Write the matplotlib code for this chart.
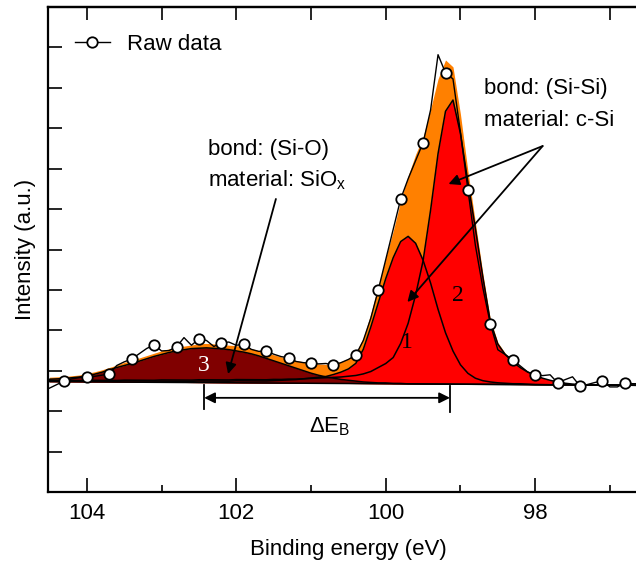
import numpy as np
import matplotlib
matplotlib.use("Agg")
import matplotlib.pyplot as plt

plt.rcParams['font.family'] = ['Liberation Sans', 'DejaVu Sans']
plt.rcParams['mathtext.fontset'] = 'custom'
plt.rcParams['mathtext.rm'] = 'Liberation Sans'
plt.rcParams['mathtext.it'] = 'Liberation Sans:italic'

# ---------------------------- data ----------------------------
# raw XPS spectrum, 0.1 eV steps starting at 104.5 eV (markers every 0.3 eV)
e_start, e_step = 104.5, 0.1
raw_int = [2.57, 2.66, 2.75, 2.80, 2.83, 2.85, 2.86, 2.89, 2.92, 3.13,
           3.22, 3.29, 3.42, 3.55, 3.64, 3.49, 3.50, 3.59, 3.82, 3.63,
           3.79, 3.75, 3.60, 3.69, 3.71, 3.63, 3.66, 3.53, 3.48, 3.49,
           3.41, 3.35, 3.32, 3.23, 3.20, 3.19, 3.17, 3.18, 3.14, 3.20,
           3.28, 3.39, 3.75, 4.30, 5.00, 5.75, 6.50, 7.25, 7.75, 8.20,
           8.64, 9.45, 10.82, 10.37, 10.22, 8.90, 7.48, 6.10, 5.05, 4.16,
           3.52, 3.40, 3.27, 3.12, 2.97, 2.90, 2.88, 2.90, 2.70, 2.78,
           2.85, 2.62, 2.66, 2.71, 2.75, 2.60, 2.60, 2.70, 2.68, 2.68]

# background line (end points)
base_e = [96.6, 104.5]
base_i = [2.64, 2.73]

# fitted components (height above background) on the same 0.1 eV grid,
# each list starts at 104.5 eV
p1 = [0.02, 0.02, 0.02, 0.02, 0.02, 0.02, 0.02, 0.02, 0.02, 0.02,   # 104.5
      0.03, 0.03, 0.03, 0.03, 0.03, 0.03, 0.03, 0.03, 0.03, 0.03,   # 103.5
      0.04, 0.04, 0.04, 0.04, 0.04, 0.05, 0.05, 0.05, 0.05, 0.05,   # 102.5
      0.06, 0.07, 0.08, 0.09, 0.11, 0.13, 0.15, 0.17, 0.22, 0.28,   # 101.5
      0.36, 0.50, 0.85, 1.40, 2.00, 2.60, 3.12, 3.52, 3.65, 3.48,   # 100.5
      3.06, 2.50, 1.85, 1.27, 0.82, 0.48, 0.27, 0.15, 0.09, 0.06,   # 99.5
      0.04, 0.03, 0.02, 0.02, 0.01]                                 # 98.5
p2 = [0.03, 0.03, 0.03, 0.03, 0.03, 0.04, 0.04, 0.04, 0.04, 0.04,   # 104.5
      0.05, 0.05, 0.05, 0.05, 0.05, 0.06, 0.06, 0.06, 0.06, 0.06,   # 103.5
      0.07, 0.07, 0.07, 0.07, 0.07, 0.08, 0.08, 0.08, 0.08, 0.08,   # 102.5
      0.09, 0.09, 0.10, 0.10, 0.11, 0.12, 0.13, 0.14, 0.15, 0.16,   # 101.5
      0.18, 0.20, 0.24, 0.30, 0.40, 0.50, 0.65, 1.00, 1.50, 2.20,   # 100.5
      3.05, 4.30, 5.70, 6.75, 7.03, 6.20, 5.00, 3.85, 2.65, 1.55,   # 99.5
      1.00, 0.74, 0.56, 0.42, 0.31, 0.23, 0.16, 0.11, 0.07, 0.04,   # 98.5
      0.02, 0.01]                                                   # 97.5
p3 = [0.06, 0.07, 0.08, 0.10, 0.12, 0.15, 0.19, 0.24, 0.30, 0.36,   # 104.5
      0.41, 0.46, 0.52, 0.58, 0.64, 0.69, 0.74, 0.78, 0.81, 0.84,   # 103.5
      0.85, 0.86, 0.85, 0.84, 0.82, 0.79, 0.76, 0.72, 0.67, 0.61,   # 102.5
      0.55, 0.49, 0.43, 0.37, 0.31, 0.25, 0.20, 0.16, 0.13, 0.10,   # 101.5
      0.08, 0.06, 0.04, 0.03, 0.02, 0.02, 0.01, 0.01]               # 100.5

peak3_center = 102.43
peak2_center = 99.14

# ---------------------------- build ----------------------------
energy = e_start - e_step * np.arange(len(raw_int))
base = np.interp(energy, base_e, base_i)


def on_grid(vals):
    out = np.zeros(len(energy))
    out[:len(vals)] = vals
    return out


c1 = on_grid(p1)
c2 = on_grid(p2)
c3 = on_grid(p3)
envelope = base + c1 + c2 + c3

fig = plt.figure(figsize=(6.36, 5.68), dpi=100)
ax = fig.add_axes([48 / 636, 76 / 568, 600 / 636, 485 / 568])

ax.fill_between(energy, base, envelope, color='#ff8000', lw=0)
ax.fill_between(energy, base, base + c1, color='#ff0000', lw=0)
ax.fill_between(energy, base, base + c2, color='#ff0000', lw=0)
ax.fill_between(energy, base, base + c3, color='#800000', lw=0)
for c in (c1, c2, c3):
    ax.plot(energy, base + c, color='black', lw=1.1)
ax.plot(energy, base, color='black', lw=1.1)

ax.plot(energy, raw_int, color='black', lw=1.0, marker='o', ms=7.5,
        mfc='white', mec='black', mew=1.3, markevery=(2, 3), label='Raw data')

# ---------------------------- axes ----------------------------
ax.set_xlim(104.52, 96.49)
ax.set_ylim(0, 12)
ax.set_xticks([104, 102, 100, 98])
ax.set_xticks([103, 101, 99, 97], minor=True)
ax.set_yticks(np.arange(0, 13))
ax.set_yticklabels([])
ax.tick_params(axis='x', which='major', direction='in', length=10, width=1.2,
               labelsize=16, pad=8)
ax.tick_params(axis='x', which='minor', direction='in', length=5, width=1.2)
ax.tick_params(axis='y', direction='in', length=10, width=1.2, left=True, right=False)
for sp in ax.spines.values():
    sp.set_linewidth(1.6)

top = ax.secondary_xaxis('top')
top.set_xticks(np.arange(97, 105))
top.tick_params(direction='in', length=9, width=1.2, labeltop=False)
top.spines['top'].set_linewidth(1.6)

ax.set_xlabel('Binding energy (eV)', fontsize=16, labelpad=11)
ax.set_ylabel('Intensity (a.u.)', fontsize=16, labelpad=5.5)

ax.legend(loc='upper left', frameon=False, fontsize=16, handlelength=1.6,
          handletextpad=0.75, borderaxespad=0.8)

# ---------------------------- annotations ----------------------------
ax.text(102.38, 8.48, 'bond: (Si-O)', fontsize=16, va='center', ha='left')
ax.text(102.38, 7.72, 'material: SiO$_\\mathrm{x}$', fontsize=16, va='center', ha='left')
ax.text(98.69, 9.98, 'bond: (Si-Si)', fontsize=16, va='center', ha='left')
ax.text(98.69, 9.20, 'material: c-Si', fontsize=16, va='center', ha='left')

arw = dict(arrowstyle='-|>', color='black', lw=1.3, mutation_scale=16,
           shrinkA=0, shrinkB=0)
ax.annotate('', xy=(102.11, 2.92), xytext=(101.47, 7.25), arrowprops=arw)
ax.annotate('', xy=(99.16, 7.62), xytext=(97.90, 8.56), arrowprops=arw)
ax.annotate('', xy=(99.71, 4.70), xytext=(97.90, 8.56), arrowprops=arw)

ax.text(99.72, 3.71, '1', family='Liberation Serif', fontsize=17, ha='center', va='center')
ax.text(99.04, 4.85, '2', family='Liberation Serif', fontsize=17, ha='center', va='center')
ax.text(102.43, 3.12, '3', family='Liberation Serif', fontsize=17, ha='center',
        va='center', color='white')

# energy separation between peak 3 and peak 2
ax.annotate('', xy=(peak3_center, 2.33), xytext=(peak2_center, 2.33),
            arrowprops=dict(arrowstyle='<|-|>', color='black', lw=1.3,
                            mutation_scale=16, shrinkA=0, shrinkB=0))
ax.plot([peak3_center, peak3_center], [2.05, 2.65], color='black', lw=1.3)
ax.plot([peak2_center, peak2_center], [1.98, 2.62], color='black', lw=1.3)
ax.text(100.75, 1.62, '$\\mathrm{\\Delta E_B}$', fontsize=16, ha='center', va='center')

fig.savefig('out.png', dpi=100)
